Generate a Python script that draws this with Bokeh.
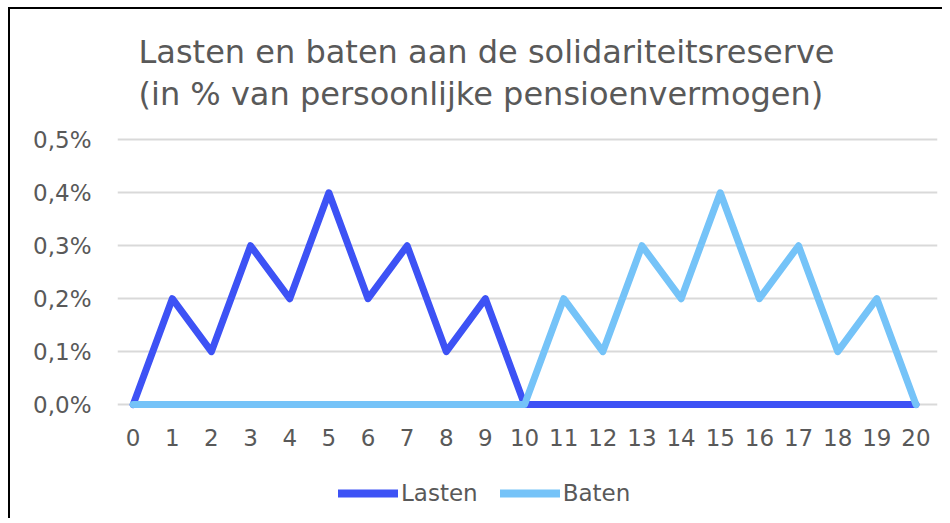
from bokeh.plotting import figure
from bokeh.models import Legend, LegendItem, FixedTicker, Title, Range1d
from bokeh.layouts import column
from bokeh.embed import file_html
from bokeh.resources import INLINE

years = list(range(0, 21))
lasten = [0, 0.2, 0.1, 0.3, 0.2, 0.4, 0.2, 0.3, 0.1, 0.2, 0,
          0, 0, 0, 0, 0, 0, 0, 0, 0, 0]
baten = [0, 0, 0, 0, 0, 0, 0, 0, 0, 0, 0,
         0.2, 0.1, 0.3, 0.2, 0.4, 0.2, 0.3, 0.1, 0.2, 0]
y_ticks = [0.0, 0.1, 0.2, 0.3, 0.4, 0.5]
y_labels = {0.0: "0,0%", 0.1: "0,1%", 0.2: "0,2%", 0.3: "0,3%", 0.4: "0,4%", 0.5: "0,5%"}
title_text = "Lasten en baten aan de solidariteitsreserve\n(in % van persoonlijke pensioenvermogen)"
series_names = ["Lasten", "Baten"]

GRAY = "#595959"
FONT = "DejaVu Sans"
C_LASTEN = "#3D52F5"
C_BATEN = "#75C3F8"

p = figure(frame_width=818, frame_height=284, output_backend="svg", toolbar_location=None,
           x_range=Range1d(-0.4, 20.55), y_range=Range1d(-0.03, 0.51),
           min_border_left=107, min_border_right=7, min_border_top=125,
           min_border_bottom=40,
           styles={"border-top": "2px solid black", "border-left": "2px solid black"})
p.outline_line_color = None

t = Title(text=title_text, align="left", text_font=FONT,
          text_font_size="32px", text_font_style="normal", text_color=GRAY,
          text_line_height=1.1, offset=21, standoff=43)
p.add_layout(t, "above")

p.line(years, lasten, line_color=C_LASTEN, line_width=7,
       line_join="round", line_cap="round")
p.line(years, baten, line_color=C_BATEN, line_width=7,
       line_join="round", line_cap="round")

p.xaxis.ticker = FixedTicker(ticks=years)
p.yaxis.ticker = FixedTicker(ticks=y_ticks)
p.yaxis.major_label_overrides = y_labels
for ax in (p.xaxis[0], p.yaxis[0]):
    ax.axis_line_color = None
    ax.major_tick_line_color = None
    ax.minor_tick_line_color = None
    ax.major_tick_out = 0
    ax.major_label_text_font = FONT
    ax.major_label_text_font_size = "23px"
    ax.major_label_text_color = GRAY
p.yaxis.major_label_standoff = 26
p.xaxis.major_label_standoff = 8

p.xgrid.grid_line_color = None
p.ygrid.grid_line_color = "#d9d9d9"
p.ygrid.grid_line_width = 2

# legend strip below the chart (same series, drawn outside its visible range)
lf = figure(frame_width=932, frame_height=60, output_backend="svg", toolbar_location=None,
            x_range=Range1d(100, 101), y_range=Range1d(100, 101),
            x_axis_location=None, y_axis_location=None,
            min_border_left=0, min_border_right=0, min_border_top=0, min_border_bottom=0,
            styles={"border-left": "2px solid black"})
lf.outline_line_color = None
lf.grid.visible = False
lr1 = lf.line(years, lasten, line_color=C_LASTEN, line_width=8, line_cap="round")
lr2 = lf.line(years, baten, line_color=C_BATEN, line_width=8, line_cap="round")

legend = Legend(items=[LegendItem(label=series_names[0], renderers=[lr1]),
                       LegendItem(label=series_names[1], renderers=[lr2])],
                orientation="horizontal", location=(328, 12),
                glyph_width=60, label_standoff=3, spacing=22,
                label_text_font=FONT, label_text_font_size="23px",
                label_text_color=GRAY, border_line_color=None,
                background_fill_alpha=0, margin=0, padding=4)
lf.add_layout(legend, "center")

layout = column(p, lf, spacing=0, margin=(7, 0, 0, 8))

open("out.html", "w").write(file_html(layout, INLINE))
